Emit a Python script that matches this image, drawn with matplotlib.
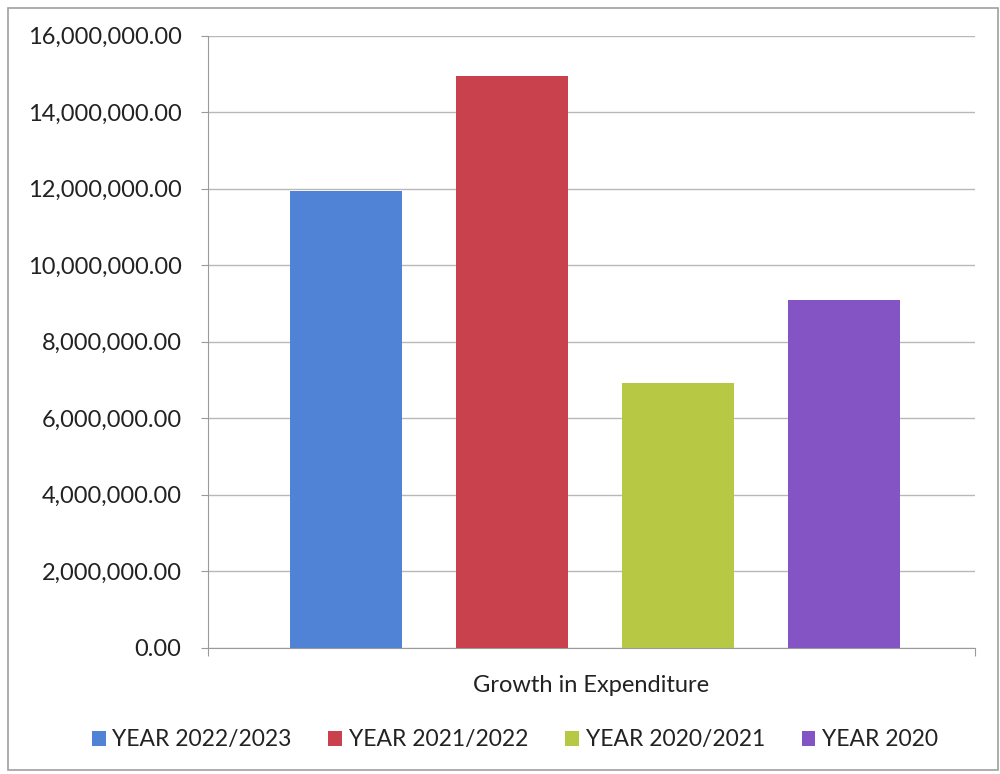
import matplotlib.pyplot as plt
from matplotlib.patches import Rectangle
from matplotlib.ticker import FuncFormatter, MultipleLocator

# Expenditure by year, one category
category = 'Growth in Expenditure'
series_names = ['YEAR 2022/2023', 'YEAR 2021/2022', 'YEAR 2020/2021', 'YEAR 2020']
values = [11950000, 14950000, 6930000, 9080000]
colors = ['#5083d6', '#c8414d', '#b7c944', '#8454c4']

plt.rcParams['font.family'] = ['Lato', 'DejaVu Sans']

fig = plt.figure(figsize=(10, 7.74), dpi=100)
ax = fig.add_axes([0.208, 0.163, 0.767, 0.791])

step = 0.2165
width = 0.146
offsets = [(i - 1.5) * step + 0.005 for i in range(len(values))]
for off, v, c, name in zip(offsets, values, colors, series_names):
    ax.bar(off, v, width=width, color=c, label=name, zorder=3)

ax.set_xlim(-0.5, 0.5)
ax.set_ylim(0, 16000000)
ax.yaxis.set_major_locator(MultipleLocator(2000000))
ax.yaxis.set_major_formatter(FuncFormatter(lambda y, p: '{:,.2f}'.format(y)))
ax.grid(axis='y', color='#b8b8b8', linewidth=1, zorder=0)

for side in ['top', 'right']:
    ax.spines[side].set_visible(False)
ax.spines['left'].set_color('#9a9a9a')
ax.spines['bottom'].set_color('#9a9a9a')

ax.set_xticks([-0.5, 0.5])
ax.set_xticklabels(['', ''])
ax.tick_params(axis='x', length=6, color='#9a9a9a')
ax.tick_params(axis='y', length=5, color='#9a9a9a', labelsize=17,
               labelcolor='#222222', pad=14)
ax.set_xlabel(category, fontsize=17, color='#222222', labelpad=10)

leg = fig.legend(loc='center', bbox_to_anchor=(0.515, 0.044), ncol=4,
                 frameon=False, fontsize=16.5, handlelength=0.6,
                 handleheight=0.6, handletextpad=0.3, columnspacing=1.6)
for t in leg.get_texts():
    t.set_color('#222222')

# outer chart border
fig.patches.append(Rectangle((0.008, 0.005), 0.99, 0.985, transform=fig.transFigure,
                             fill=False, edgecolor='#a0a0a0', linewidth=1.2))

fig.savefig('out.png', dpi=100)
